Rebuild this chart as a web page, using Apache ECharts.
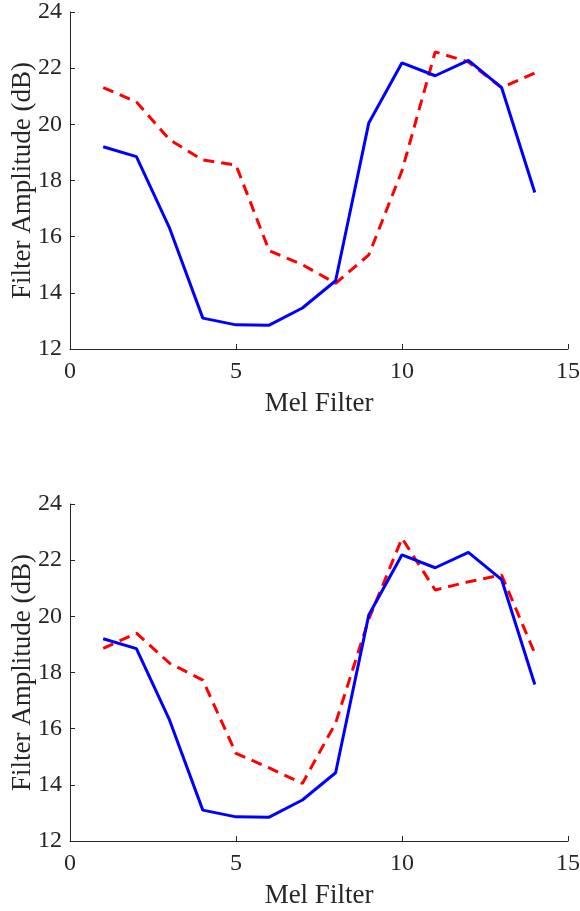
<!DOCTYPE html>
<html>
<head>
<meta charset="utf-8">
<script src="https://cdn.jsdelivr.net/npm/echarts@6/dist/echarts.min.js"></script>
<style>
html, body { margin: 0; padding: 0; background: #fff; }
#chart { width: 580px; height: 911px; }
</style>
</head>
<body>
<div id="chart"></div>
<script>
// Mel filter index
var filters = [1, 2, 3, 4, 5, 6, 7, 8, 9, 10, 11, 12, 13, 14];
// blue solid line (same in both panels)
var blueVals = [19.2, 18.85, 16.3, 13.1, 12.86, 12.85, 13.46, 14.43, 20.05, 22.19, 21.73, 22.28, 21.31, 17.57];
// red dashed, top panel
var redTop = [21.31, 20.8, 19.45, 18.73, 18.55, 15.5, 15.0, 14.34, 15.35, 18.35, 22.58, 22.22, 21.31, 21.83];
// red dashed, bottom panel
var redBottom = [18.86, 19.4, 18.33, 17.73, 15.12, 14.6, 14.05, 16.2, 19.9, 22.78, 20.94, 21.23, 21.47, 18.68];

var xTicks = [0, 5, 10, 15];
var yTicks = [12, 14, 16, 18, 20, 22, 24];

function pairs(vals) {
    return filters.map(function (x, i) { return [x, vals[i]]; });
}

var axisColor = '#262626';
var font = 'Liberation Serif';

function makeX(idx) {
    return {
        type: 'value',
        gridIndex: idx,
        min: xTicks[0],
        max: xTicks[xTicks.length - 1],
        interval: 5,
        name: 'Mel Filter',
        nameLocation: 'middle',
        nameGap: 41,
        nameTextStyle: {color: axisColor, fontFamily: font, fontSize: 27},
        axisLine: {lineStyle: {color: axisColor, width: 1}},
        axisTick: {inside: true, length: 5, lineStyle: {color: axisColor}},
        axisLabel: {color: axisColor, fontFamily: font, fontSize: 24, margin: 11},
        splitLine: {show: false}
    };
}

function makeY(idx) {
    return {
        type: 'value',
        gridIndex: idx,
        min: yTicks[0],
        max: yTicks[yTicks.length - 1],
        interval: 2,
        name: 'Filter Amplitude (dB)',
        nameLocation: 'middle',
        nameGap: 34,
        nameMoveOverlap: false,
        nameTextStyle: {color: axisColor, fontFamily: font, fontSize: 27},
        axisLine: {show: true, lineStyle: {color: axisColor, width: 1}},
        axisTick: {show: true, inside: true, length: 5, lineStyle: {color: axisColor}},
        axisLabel: {color: axisColor, fontFamily: font, fontSize: 24, margin: 8},
        splitLine: {show: false}
    };
}

function blueSeries(idx) {
    return {
        type: 'line',
        xAxisIndex: idx,
        yAxisIndex: idx,
        data: pairs(blueVals),
        symbol: 'none',
        lineStyle: {color: '#0000ff', width: 3}
    };
}

function redSeries(idx, vals) {
    return {
        type: 'line',
        xAxisIndex: idx,
        yAxisIndex: idx,
        data: pairs(vals),
        symbol: 'none',
        lineStyle: {color: '#ff0000', width: 3, type: [11, 7]}
    };
}

var option = {
    animation: false,
    backgroundColor: '#ffffff',
    grid: [
        {left: 70, right: 12, top: 12, height: 337, outerBoundsMode: 'none'},
        {left: 70, right: 12, top: 504, height: 337, outerBoundsMode: 'none'}
    ],
    xAxis: [makeX(0), makeX(1)],
    yAxis: [makeY(0), makeY(1)],
    series: [
        redSeries(0, redTop),
        blueSeries(0),
        redSeries(1, redBottom),
        blueSeries(1)
    ]
};

var chart = echarts.init(document.getElementById('chart'));
chart.setOption(option);
</script>
</body>
</html>
